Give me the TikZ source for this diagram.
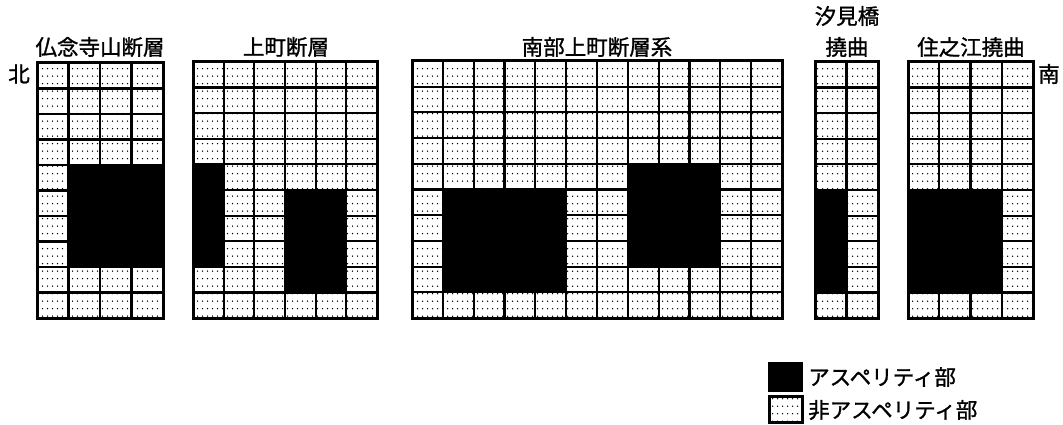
\documentclass[tikz,border=0pt]{standalone}
\usepackage{fontspec}
\newfontfamily\jp[FakeBold=1.2]{Noto Sans CJK JP}
\usetikzlibrary{patterns}
\pgfdeclarepatternformonly{celldots}{\pgfpoint{-1pt}{-1pt}}{\pgfpoint{6pt}{8.5pt}}{\pgfpoint{5pt}{7.5pt}}{\pgfpathcircle{\pgfpoint{2.5pt}{3.75pt}}{0.75pt}\pgfusepath{fill}}
\tikzset{
  gridline/.style={line width=2.2pt,black},
  border/.style={line width=3pt,black},
  title/.style={font=\jp\fontsize{21.5}{23}\selectfont,inner sep=0pt,align=center},
  legtext/.style={font=\jp\fontsize{21.5}{22}\selectfont,inner sep=0pt,anchor=west},
}
\newcommand\faultgrid[6]{%
  \def\gx{#1}\def\gy{#2}%
  \pgfmathsetmacro\gdx{(#3-#1)/#5}%
  \pgfmathsetmacro\gdy{(#4-#2)/#6}%
  \fill[white] (#1,#2) rectangle (#3,#4);
  \fill[pattern=celldots] (#1,#2) rectangle (#3,#4);
  \foreach \i in {1,...,#5} \draw[gridline] ({#1+\i*\gdx},#2) -- ({#1+\i*\gdx},#4);
  \foreach \j in {1,...,#6} \draw[gridline] (#1,{#2+\j*\gdy}) -- (#3,{#2+\j*\gdy});
  \draw[border] (#1,#2) rectangle (#3,#4);
}
\newcommand\aspblock[4]{\fill[black] ({\gx+#1*\gdx},{\gy+#2*\gdy}) rectangle ({\gx+(#3+1)*\gdx},{\gy+(#4+1)*\gdy});}
\begin{document}
\begin{tikzpicture}[x=1pt,y=-1pt]
\useasboundingbox (0,0) rectangle (1063,425);
% grid 1
\faultgrid{37}{63}{163}{318}{4}{10}
\aspblock{1}{4}{3}{7}
% grid 2
\faultgrid{193}{62}{377}{318}{6}{10}
\aspblock{0}{4}{0}{7}
\aspblock{3}{5}{4}{8}
% grid 3
\faultgrid{412}{61}{782}{318}{12}{10}
\aspblock{1}{5}{4}{8}
\aspblock{7}{4}{9}{7}
% grid 4
\faultgrid{815}{62}{878}{318}{2}{10}
\aspblock{0}{5}{0}{8}
% grid 5
\faultgrid{908}{62}{1033}{318}{4}{10}
\aspblock{0}{5}{2}{8}
% titles
\node[title] (t1) at (100,47) {仏念寺山断層};
\node[title] (t2) at (286,47) {上町断層};
\node[title] (t3) at (597,47) {南部上町断層系};
\node[title] (t4a) at (847,16) {汐見橋};
\node[title] (t4b) at (847,47) {撓曲};
\node[title] (t5) at (971,47) {住之江撓曲};
\node[title] (n) at (19,74) {北};
\node[title] (s) at (1049,74) {南};
% legend
\fill[black] (768,362) rectangle (803,392);
\node[legtext] (l1) at (808,377) {アスペリティ部};
\fill[white] (769,396) rectangle (802,422);
\fill[pattern=celldots] (769,396) rectangle (802,422);
\draw[border] (769,396) rectangle (802,422);
\node[legtext] (l2) at (808,410) {非アスペリティ部};
\end{tikzpicture}
\end{document}
